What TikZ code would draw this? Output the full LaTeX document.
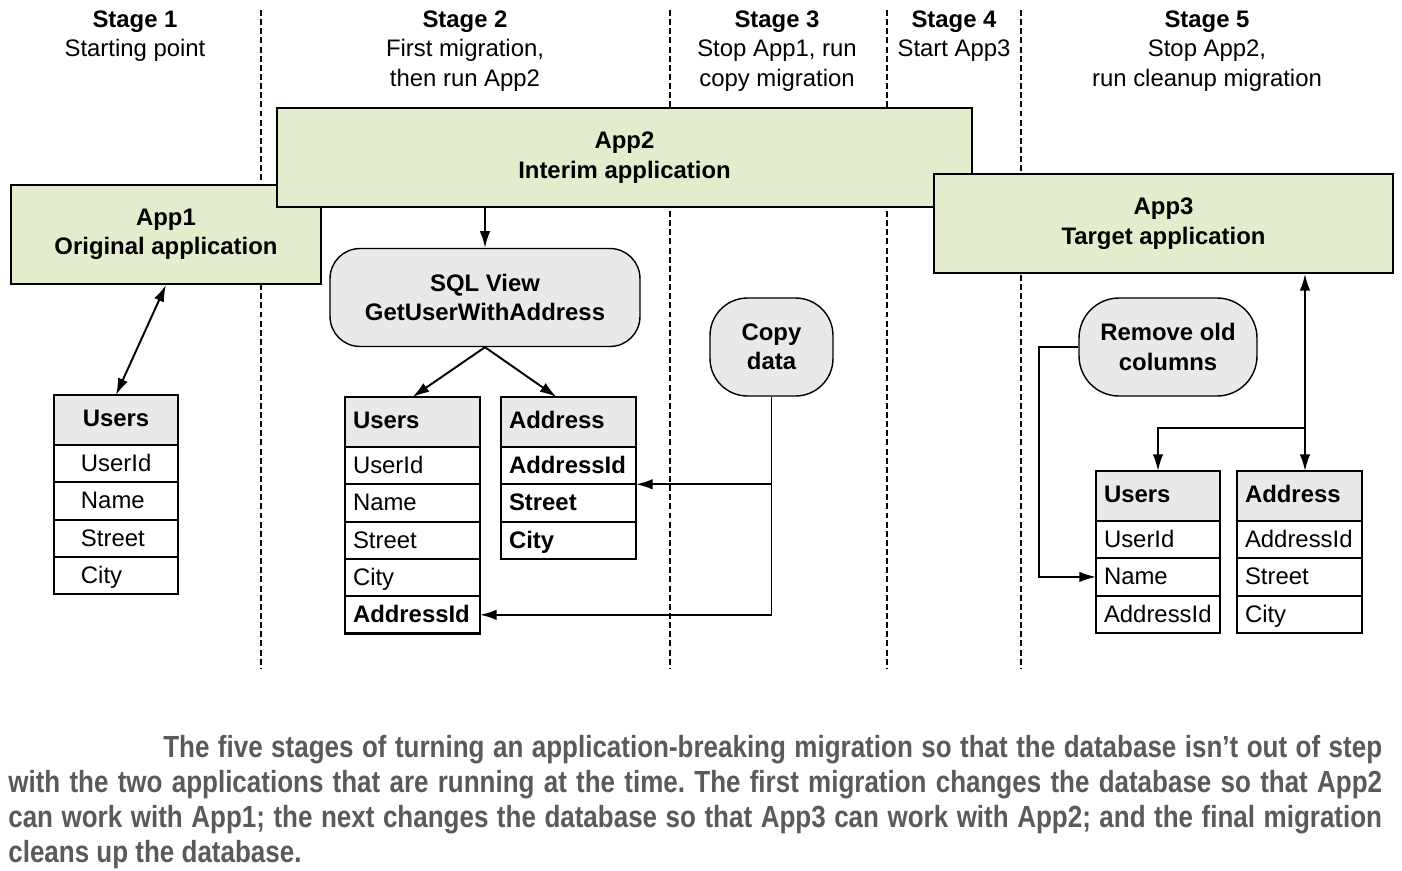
\documentclass[tikz,border=0pt]{standalone}
\usepackage{fontspec}
\setmainfont{Liberation Sans}
\newfontfamily\capfont[FakeStretch=0.85]{Liberation Sans}
\usetikzlibrary{positioning}
\usetikzlibrary{arrows.meta}
\definecolor{appgreen}{RGB}{227,237,205}
\definecolor{boxgray}{RGB}{232,233,233}
\definecolor{capgray}{RGB}{90,90,90}
\newcommand{\figfont}{\fontsize{13.6}{16.8}\selectfont}

\begin{document}
\begin{tikzpicture}[x=0.02cm,y=-0.02cm,
                    every node/.style={font=\figfont},
                    stage line/.style={line width=1.1pt, dash pattern=on 3.4pt off 1.8pt},
                    app box/.style={draw, line width=1.1pt, fill=appgreen, align=center, font=\figfont\bfseries, minimum height=1.98cm},
                    round box/.style={draw, line width=0.8pt, fill=boxgray, align=center, font=\figfont\bfseries, minimum height=1.96cm},
                    head cell/.style={draw, line width=1.2pt, outer sep=0pt, fill=boxgray, anchor=north west, align=left, font=\figfont\bfseries, minimum height=1cm, inner xsep=0.16cm, text height=10pt, text depth=3pt},
                    row cell/.style={draw, line width=1.2pt, outer sep=0pt, fill=white, align=left, minimum height=0.746cm, inner xsep=0.16cm, text height=10.5pt, text depth=1.5pt},
                    bold cell/.style={font=\figfont\bfseries},
                    arr/.style={line width=1.1pt, -{Latex[length=9.5pt,width=6pt]}},
                    both arr/.style={line width=1.1pt, {Latex[length=9.5pt,width=6pt]}-{Latex[length=9.5pt,width=6pt]}}]
\useasboundingbox (0,0) rectangle (1402,870); % page size of the reference
% stage separators
\foreach \sx in {261,670,887,1021}
  \draw[stage line] (\sx,10) -- (\sx,668);
% stage headings
\node[anchor=north, align=center, inner sep=0pt] (stage1) at (135,10) {\textbf{Stage 1}\\Starting point};
\node[anchor=north, align=center, inner sep=0pt] (stage2) at (465,10) {\textbf{Stage 2}\\First migration,\\then run App2};
\node[anchor=north, align=center, inner sep=0pt] (stage3) at (777,10) {\textbf{Stage 3}\\Stop App1, run\\copy migration};
\node[anchor=north, align=center, inner sep=0pt] (stage4) at (954,10) {\textbf{Stage 4}\\Start App3};
\node[anchor=north, align=center, inner sep=0pt] (stage5) at (1207,10) {\textbf{Stage 5}\\Stop App2,\\run cleanup migration};
% applications, later ones on top
\node[app box, minimum width=6.2cm] (app1) at (166,234.5) {App1\\Original application};
\node[app box, minimum width=13.9cm] (app2) at (624.5,157.5) {App2\\Interim application};
\node[app box, minimum width=9.18cm] (app3) at (1163.5,223.5) {App3\\Target application};
% migration steps
\node[round box, rounded corners=0.6cm, minimum width=6.2cm] (sql) at (485,297.5) {SQL View\\GetUserWithAddress};
\node[round box, rounded corners=0.75cm, minimum width=2.46cm] (copy) at (771.5,347) {Copy\\data};
\node[round box, rounded corners=0.8cm, minimum width=3.56cm] (remove) at (1168,347) {Remove old\\columns};
% stage 1 table
\node[head cell, align=center, text width=2.16cm] (u1-0) at (54,395) {Users};
\foreach \f [count=\i, remember=\i as \j (initially 0)] in {UserId,Name,Street,City}
  \node[row cell, inner xsep=0.54cm, text width=1.4cm, below=0pt of u1-\j] (u1-\i) {\f};
% stage 2 tables
\node[head cell, text width=2.38cm] (u2-0) at (345,397) {Users};
\foreach \f [count=\i, remember=\i as \j (initially 0)] in {UserId,Name,Street,City,\textbf{AddressId}}
  \node[row cell, text width=2.38cm, below=0pt of u2-\j] (u2-\i) {\f};
\node[head cell, text width=2.38cm] (a2-0) at (501,397) {Address};
\foreach \f [count=\i, remember=\i as \j (initially 0)] in {AddressId,Street,City}
  \node[row cell, bold cell, text width=2.38cm, below=0pt of a2-\j] (a2-\i) {\f};
% stage 5 tables
\node[head cell, text width=2.16cm] (u5-0) at (1096,471) {Users};
\foreach \f [count=\i, remember=\i as \j (initially 0)] in {UserId,Name,AddressId}
  \node[row cell, text width=2.16cm, below=0pt of u5-\j] (u5-\i) {\f};
\node[head cell, text width=2.18cm] (a5-0) at (1237,471) {Address};
\foreach \f [count=\i, remember=\i as \j (initially 0)] in {AddressId,Street,City}
  \node[row cell, text width=2.18cm, below=0pt of a5-\j] (a5-\i) {\f};
% connectors
\draw[both arr] (app1.south) -- (u1-0.north);
\draw[arr] (sql.north |- app2.south) -- (sql.north);
\draw[arr] (sql.south) -- (u2-0.north);
\draw[arr] (sql.south) -- ([xshift=-0.24cm]a2-0.north);
\draw[arr] (copy.south) |- (u2-5.east);
\draw[arr] (copy.south |- a2-1.south east) -- (a2-1.south east);
\draw[arr] (remove.west) -- ++(-0.78cm,0) |- (u5-2.west);
\draw[both arr] ([xshift=0.11cm]app3.south -| a5-0.north) -- ([xshift=0.11cm]a5-0.north);
\draw[arr] ([xshift=0.11cm,yshift=0.86cm]a5-0.north) -| (u5-0.north);
% caption
\node[anchor=north west, inner sep=0pt, text width=27.48cm, align=justify, text=capgray, font=\capfont\bfseries\fontsize{17.4}{19.9}\selectfont] (caption) at (8,735)
  {\frenchspacing\hspace*{3.1cm}The five stages of turning an application-breaking migration so that the database isn’t out of step\linebreak
   with the two applications that are running at the time. The first migration changes the database so that App2\linebreak
   can work with App1; the next changes the database so that App3 can work with App2; and the final migration\linebreak
   cleans up the database.};
\end{tikzpicture}
\end{document}
